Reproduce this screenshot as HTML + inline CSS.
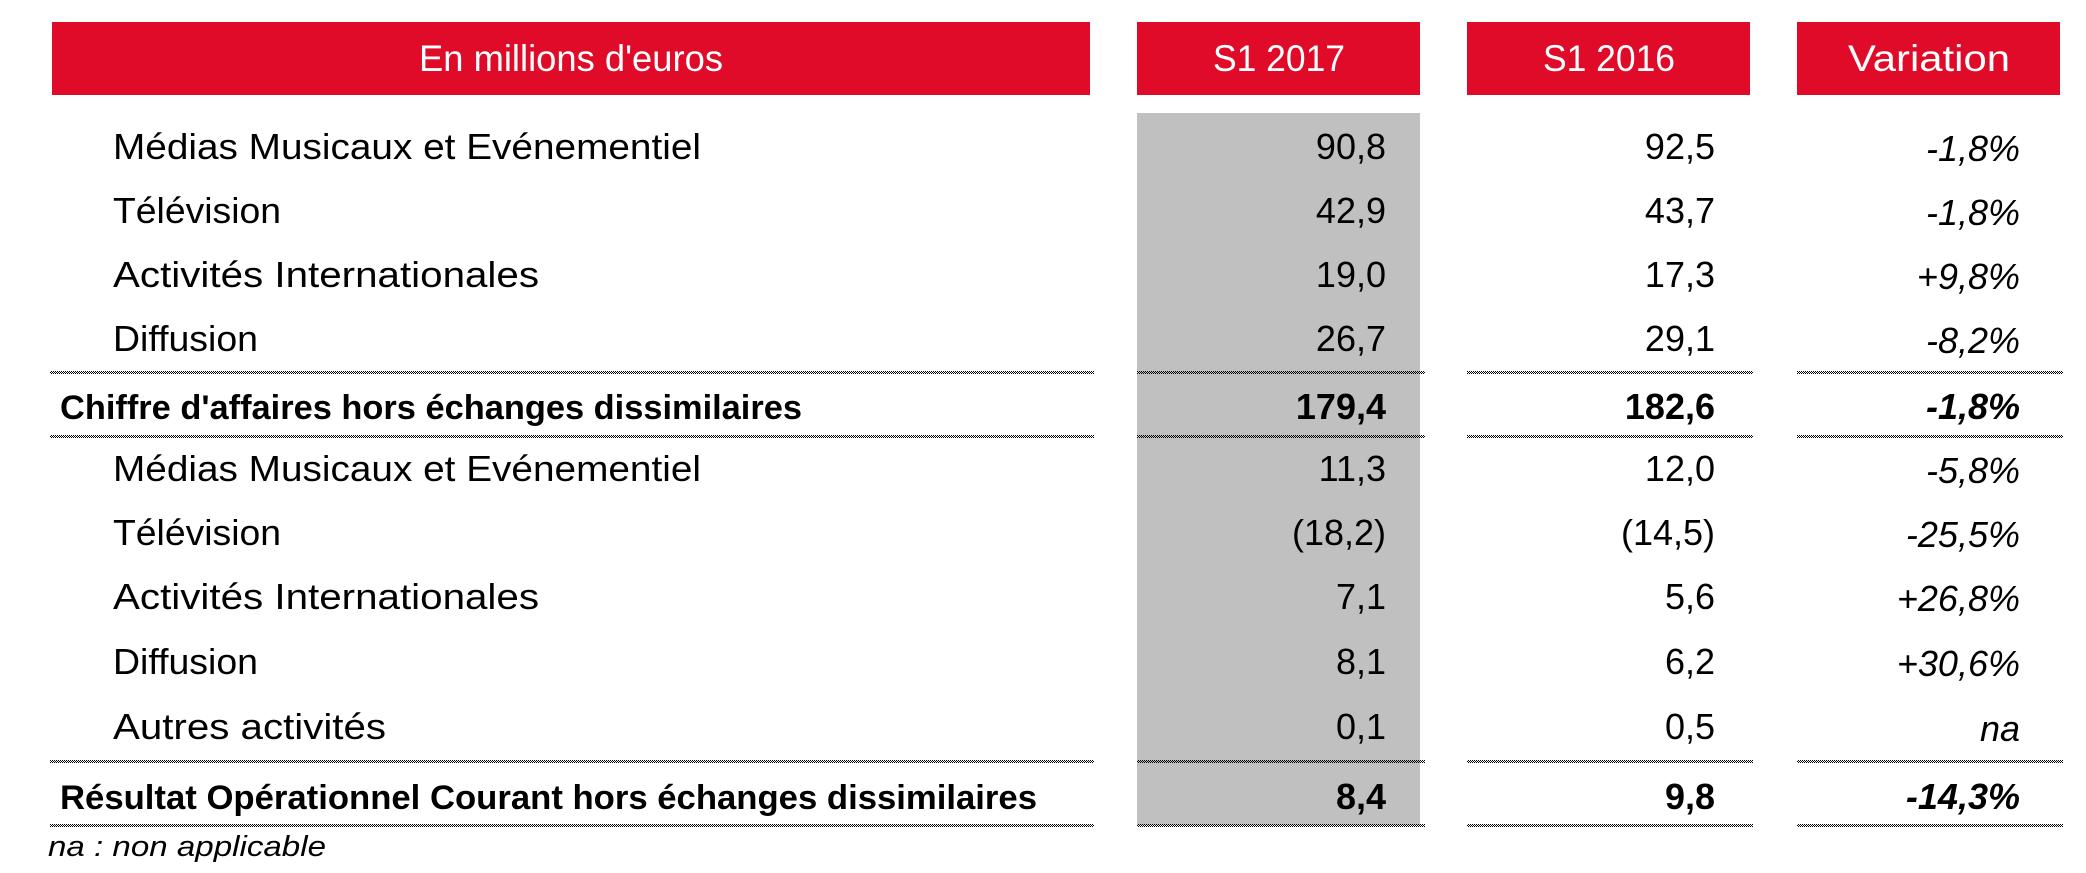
<!DOCTYPE html>
<html><head><meta charset="utf-8"><style>
html,body{margin:0;padding:0;background:#fff;}
svg{display:block;}
text{font-family:"Liberation Sans",sans-serif;}
</style></head><body>
<svg width="2086" height="873" viewBox="0 0 2086 873" xmlns="http://www.w3.org/2000/svg">
<defs>
<pattern id="dots" width="2" height="2" patternUnits="userSpaceOnUse">
<rect x="0" y="0" width="1" height="1" fill="#000"/><rect x="1" y="1" width="1" height="1" fill="#000"/>
</pattern>
</defs>
<rect x="1137" y="113" width="283" height="712" fill="#c0c0c0"/>
<g fill="#e00b29">
<rect x="52" y="22" width="1038" height="73"/>
<rect x="1137" y="22" width="283" height="73"/>
<rect x="1467" y="22" width="283" height="73"/>
<rect x="1797" y="22" width="263" height="73"/>
</g>
<g fill="#fff" font-size="37" text-anchor="middle">
<text x="571" y="71" textLength="304" lengthAdjust="spacingAndGlyphs">En millions d'euros</text>
<text x="1279" y="71" textLength="132" lengthAdjust="spacingAndGlyphs">S1 2017</text>
<text x="1609" y="71" textLength="132" lengthAdjust="spacingAndGlyphs">S1 2016</text>
<text x="1929" y="71" textLength="162" lengthAdjust="spacingAndGlyphs">Variation</text>
</g>
<g fill="url(#dots)">
<rect x="50" y="371" width="1044" height="3"/><rect x="1137" y="371" width="288" height="3"/><rect x="1467" y="371" width="286" height="3"/><rect x="1797" y="371" width="266" height="3"/>
<rect x="50" y="435" width="1044" height="3"/><rect x="1137" y="435" width="288" height="3"/><rect x="1467" y="435" width="286" height="3"/><rect x="1797" y="435" width="266" height="3"/>
<rect x="50" y="760" width="1044" height="3"/><rect x="1137" y="760" width="288" height="3"/><rect x="1467" y="760" width="286" height="3"/><rect x="1797" y="760" width="266" height="3"/>
<rect x="50" y="824" width="1044" height="3"/><rect x="1137" y="824" width="288" height="3"/><rect x="1467" y="824" width="286" height="3"/><rect x="1797" y="824" width="266" height="3"/>
</g>
<g fill="#000" font-size="36">
<text x="113" y="159" textLength="588" lengthAdjust="spacingAndGlyphs">Médias Musicaux et Evénementiel</text>
<text x="113" y="223" textLength="168" lengthAdjust="spacingAndGlyphs">Télévision</text>
<text x="113" y="287" textLength="426" lengthAdjust="spacingAndGlyphs">Activités Internationales</text>
<text x="113" y="351" textLength="145" lengthAdjust="spacingAndGlyphs">Diffusion</text>
<text x="113" y="481" textLength="588" lengthAdjust="spacingAndGlyphs">Médias Musicaux et Evénementiel</text>
<text x="113" y="545" textLength="168" lengthAdjust="spacingAndGlyphs">Télévision</text>
<text x="113" y="609" textLength="426" lengthAdjust="spacingAndGlyphs">Activités Internationales</text>
<text x="113" y="674" textLength="145" lengthAdjust="spacingAndGlyphs">Diffusion</text>
<text x="113" y="739" textLength="273" lengthAdjust="spacingAndGlyphs">Autres activités</text>
<text x="60" y="419" font-weight="bold" font-size="34" textLength="742" lengthAdjust="spacingAndGlyphs">Chiffre d'affaires hors échanges dissimilaires</text>
<text x="60" y="809" font-weight="bold" font-size="34" textLength="977" lengthAdjust="spacingAndGlyphs">Résultat Opérationnel Courant hors échanges dissimilaires</text>
</g>
<g fill="#000" font-size="36" text-anchor="end">
<text x="1386" y="159">90,8</text><text x="1715" y="159">92,5</text><text x="2020" y="161" font-style="italic">-1,8%</text>
<text x="1386" y="223">42,9</text><text x="1715" y="223">43,7</text><text x="2020" y="225" font-style="italic">-1,8%</text>
<text x="1386" y="287">19,0</text><text x="1715" y="287">17,3</text><text x="2020" y="289" font-style="italic">+9,8%</text>
<text x="1386" y="351">26,7</text><text x="1715" y="351">29,1</text><text x="2020" y="353" font-style="italic">-8,2%</text>
<text x="1386" y="419" font-weight="bold">179,4</text><text x="1715" y="419" font-weight="bold">182,6</text><text x="2020" y="419" font-weight="bold" font-style="italic">-1,8%</text>
<text x="1386" y="481">11,3</text><text x="1715" y="481">12,0</text><text x="2020" y="483" font-style="italic">-5,8%</text>
<text x="1386" y="545">(18,2)</text><text x="1715" y="545">(14,5)</text><text x="2020" y="547" font-style="italic">-25,5%</text>
<text x="1386" y="609">7,1</text><text x="1715" y="609">5,6</text><text x="2020" y="611" font-style="italic">+26,8%</text>
<text x="1386" y="674">8,1</text><text x="1715" y="674">6,2</text><text x="2020" y="676" font-style="italic">+30,6%</text>
<text x="1386" y="739">0,1</text><text x="1715" y="739">0,5</text><text x="2020" y="741" font-style="italic">na</text>
<text x="1386" y="809" font-weight="bold">8,4</text><text x="1715" y="809" font-weight="bold">9,8</text><text x="2020" y="809" font-weight="bold" font-style="italic">-14,3%</text>
</g>
<text x="48" y="856" font-size="29" font-style="italic" fill="#000" textLength="278" lengthAdjust="spacingAndGlyphs">na : non applicable</text>
</svg>
</body></html>
